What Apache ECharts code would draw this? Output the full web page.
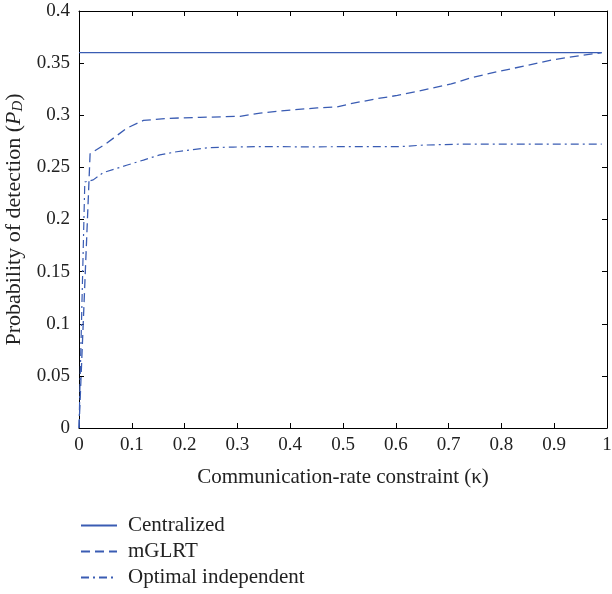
<!DOCTYPE html>
<html>
<head>
<meta charset="utf-8">
<script src="https://cdn.jsdelivr.net/npm/echarts@6/dist/echarts.min.js"></script>
<style>
  html, body { margin: 0; padding: 0; background: #fff; }
  #chart { width: 612px; height: 594px; }
</style>
</head>
<body>
<div id="chart"></div>
<script>
// Communication-rate constraint (kappa) on the x axis
const centralizedK = [0, 0.99];
const centralizedPd = [0.36, 0.36];

const mglrtK = [0, 0.021, 0.052, 0.09, 0.122, 0.166, 0.229, 0.305, 0.343, 0.4, 0.451, 0.489,
  0.514, 0.565, 0.603, 0.641, 0.705, 0.743, 0.794, 0.851, 0.895, 0.959, 0.99];
const mglrtPd = [0, 0.263, 0.273, 0.2875, 0.295, 0.297, 0.298, 0.299, 0.302, 0.305, 0.307, 0.308,
  0.311, 0.316, 0.319, 0.323, 0.330, 0.336, 0.342, 0.348, 0.353, 0.358, 0.360];

const optK = [0, 0.011, 0.027, 0.046, 0.09, 0.122, 0.153, 0.185, 0.216, 0.248, 0.292, 0.343,
  0.419, 0.61, 0.653, 0.724, 0.99];
const optPd = [0, 0.236, 0.238, 0.245, 0.252, 0.257, 0.262, 0.265, 0.267, 0.269, 0.2695, 0.270,
  0.2697, 0.270, 0.2714, 0.2723, 0.2723];

const seriesNames = ['Centralized', 'mGLRT', 'Optimal independent'];

const pairs = (xs, ys) => xs.map((x, i) => [x, ys[i]]);

const FONT = '"Liberation Serif", "DejaVu Serif", serif';
const LINE = '#3a5cb3';
const INK = '#222';

const chart = echarts.init(document.getElementById('chart'), null, { renderer: 'canvas' });

// shared styling for the four sides of the plot box (ticks point inwards)
const boxAxis = (extra) => Object.assign({
  axisLine: { show: true, onZero: false, lineStyle: { color: '#000', width: 1 } },
  axisTick: { show: true, inside: true, length: 5, lineStyle: { color: '#000' } },
  splitLine: { show: false }
}, extra);

chart.setOption({
  animation: false,
  backgroundColor: '#fff',
  grid: { left: 79, right: 5, top: 11, bottom: 166, containLabel: false, outerBoundsMode: 'none' },
  xAxis: [
    boxAxis({
      type: 'value', min: 0, max: 1, interval: 0.1, position: 'bottom',
      name: 'Communication-rate constraint (κ)',
      nameLocation: 'middle', nameGap: 39,
      nameTextStyle: { fontFamily: FONT, fontSize: 21, color: INK },
      axisLabel: { fontFamily: FONT, fontSize: 19, color: INK, margin: 8 }
    }),
    boxAxis({
      type: 'value', min: 0, max: 1, interval: 0.1, position: 'top',
      axisLabel: { show: false }
    })
  ],
  yAxis: [
    boxAxis({
      type: 'value', min: 0, max: 0.4, interval: 0.05, position: 'left',
      name: '{n|Probability of detection (}{p|P}{s|D}{n|)}',
      nameLocation: 'middle', nameGap: 43, nameRotate: 90,
      nameTextStyle: {
        fontFamily: FONT, fontSize: 22, color: INK,
        rich: {
          n: { fontFamily: FONT, fontSize: 22, color: INK },
          p: { fontFamily: FONT, fontSize: 22, color: INK, fontStyle: 'italic' },
          s: { fontFamily: FONT, fontSize: 15, color: INK, fontStyle: 'italic', verticalAlign: 'bottom', padding: [8, 0, 0, 0] }
        }
      },
      axisLabel: { fontFamily: FONT, fontSize: 19, color: INK, margin: 9 }
    }),
    boxAxis({
      type: 'value', min: 0, max: 0.4, interval: 0.05, position: 'right',
      axisLabel: { show: false }
    })
  ],
  legend: {
    orient: 'vertical',
    left: 80, top: 515, padding: 0,
    itemWidth: 36, itemHeight: 12, itemGap: 5,
    itemStyle: { opacity: 0 },
    textStyle: { fontFamily: FONT, fontSize: 21, color: INK, padding: [0, 0, 0, 6] },
    data: seriesNames
  },
  series: [
    {
      name: seriesNames[0], type: 'line', symbol: 'none',
      data: pairs(centralizedK, centralizedPd),
      lineStyle: { color: LINE, width: 1.3, type: 'solid' },
      itemStyle: { color: LINE }
    },
    {
      name: seriesNames[1], type: 'line', symbol: 'none',
      data: pairs(mglrtK, mglrtPd),
      lineStyle: { color: LINE, width: 1.3, type: [9, 5] },
      itemStyle: { color: LINE }
    },
    {
      name: seriesNames[2], type: 'line', symbol: 'none',
      data: pairs(optK, optPd),
      lineStyle: { color: LINE, width: 1.2, type: [8, 4, 2, 4] },
      itemStyle: { color: LINE }
    }
  ]
});
</script>
</body>
</html>
